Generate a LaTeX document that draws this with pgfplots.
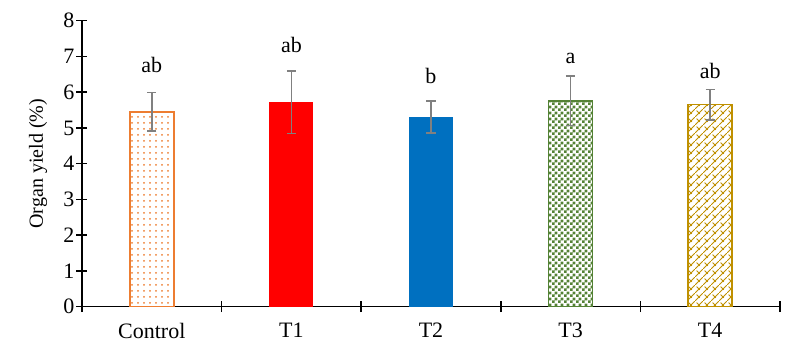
\documentclass[border=0pt]{standalone}
\usepackage{fontspec}
\setmainfont{Liberation Serif}
\usepackage{pgfplots}
\pgfplotsset{compat=1.18}
\usetikzlibrary{patterns}
\definecolor{cOrange}{RGB}{237,125,49}
\definecolor{cRed}{RGB}{255,0,0}
\definecolor{cBlue}{RGB}{0,112,192}
\definecolor{cGreen}{RGB}{84,130,53}
\definecolor{cGold}{RGB}{191,144,0}
\definecolor{cGray}{RGB}{128,128,128}
\pgfdeclarepatternformonly{mycheck}{\pgfpointorigin}{\pgfqpoint{3pt}{3pt}}{\pgfqpoint{3pt}{3pt}}{%
  \pgfpathrectangle{\pgfpointorigin}{\pgfqpoint{1.55pt}{1.55pt}}%
  \pgfpathrectangle{\pgfqpoint{1.5pt}{1.5pt}}{\pgfqpoint{1.55pt}{1.55pt}}%
  \pgfusepath{fill}}
\pgfdeclarepatternformonly{myweave}{\pgfpointorigin}{\pgfqpoint{4pt}{4pt}}{\pgfqpoint{4pt}{4pt}}{%
  \pgfsetlinewidth{0.45pt}%
  \pgfpathmoveto{\pgfqpoint{-0.5pt}{-0.5pt}}\pgfpathlineto{\pgfqpoint{4.5pt}{4.5pt}}%
  \pgfpathmoveto{\pgfqpoint{0.8pt}{3.2pt}}\pgfpathlineto{\pgfqpoint{2.4pt}{1.6pt}}%
  \pgfusepath{stroke}}
\pgfdeclarepatternformonly{mydots}{\pgfqpoint{-1pt}{-1pt}}{\pgfqpoint{1pt}{1pt}}{\pgfqpoint{3pt}{3pt}}{%
  \pgfpathcircle{\pgfpointorigin}{0.5pt}%
  \pgfusepath{fill}}
\begin{document}
\begin{tikzpicture}
\begin{axis}[
  at={(0,0)}, anchor=south west,
  scale only axis,
  width=349pt, height=143pt,
  xmin=-0.5, xmax=4.5,
  ymin=0, ymax=8,
  axis lines*=left,
  axis line style={line width=0.75pt},
  every tick/.style={black, line width=0.75pt},
  tick align=center,
  major tick length=5.5pt,
  xtick={-0.5,0.5,1.5,2.5,3.5,4.5},
  xticklabels={},
  extra x ticks={0,1,2,3,4},
  extra x tick labels={Control,T1,T2,T3,T4},
  extra x tick style={major tick length=0pt, xticklabel style={yshift=-4.5pt}},
  ytick={0,1,2,3,4,5,6,7,8},
  yticklabel style={xshift=2.5pt},
  /pgf/number format/assume math mode=true,
  tick label style={font=\fontsize{11}{13}\selectfont},
  ylabel={Organ yield (\%)},
  ylabel style={font=\fontsize{11}{13}\selectfont},
  every axis y label/.style={at={(axis description cs:-0.063,0.5)}, rotate=90, anchor=center},
  clip=false,
]
\pgfplotsset{myerr/.style={error bars/.cd, y dir=both, y explicit,
  error bar style={cGray, line width=0.8pt},
  error mark options={cGray, line width=0.8pt, mark size=2.3pt, rotate=90}}}
\addplot[ybar, bar width=22pt, bar shift=0pt, draw=cOrange, line width=0.75pt, pattern=mydots, pattern color=cOrange, myerr]
  coordinates {(0,5.45) +- (0,0.54)};
\addplot[ybar, bar width=22pt, bar shift=0pt, draw=none, fill=cRed, myerr]
  coordinates {(1,5.72) +- (0,0.87)};
\addplot[ybar, bar width=22pt, bar shift=0pt, draw=none, fill=cBlue, myerr]
  coordinates {(2,5.31) +- (0,0.45)};
\addplot[ybar, bar width=22pt, bar shift=0pt, draw=cGreen, line width=0.75pt, pattern=mycheck, pattern color=cGreen, myerr]
  coordinates {(3,5.76) +- (0,0.69)};
\addplot[ybar, bar width=22pt, bar shift=0pt, draw=cGold, line width=0.75pt, pattern=myweave, pattern color=cGold, myerr]
  coordinates {(4,5.65) +- (0,0.43)};
\addplot[draw=none, mark=none, nodes near coords, point meta=explicit symbolic,
  every node near coord/.append style={anchor=base, font=\fontsize{11}{13}\selectfont, black}]
  coordinates {(0,6.55) [ab] (1,7.10) [ab] (2,6.23) [b] (3,6.81) [a] (4,6.37) [ab]};
\end{axis}
\pgfresetboundingbox
\path (-41pt,-25.15pt) rectangle (359pt,153.35pt);
\end{tikzpicture}
\end{document}
